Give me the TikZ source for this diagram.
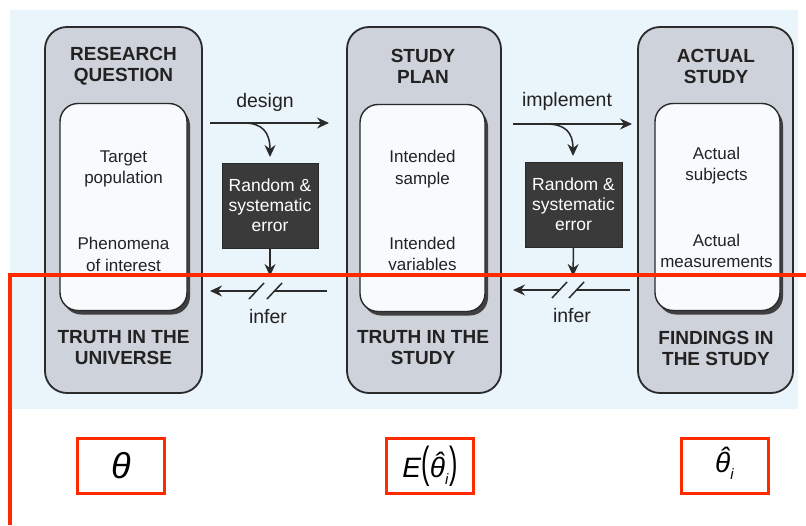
\documentclass[tikz,border=0pt]{standalone}
\usepackage{fontspec}
\usepackage{graphicx}
\setmainfont{Liberation Sans}
\usetikzlibrary{arrows.meta,shadows}
\definecolor{bgblue}{HTML}{EAF4FB}
\definecolor{outerfill}{HTML}{CED2DA}
\definecolor{innerfill}{HTML}{F7FBFD}
\definecolor{darkbox}{HTML}{3A3A3A}
\definecolor{redline}{HTML}{FF2A00}
\definecolor{edge}{HTML}{2A2A2A}
\definecolor{txt}{HTML}{222222}
\newcommand\hattheta{\leavevmode\ooalign{θ\cr\hidewidth\kern0.14em\raisebox{0.18em}{ˆ}\hidewidth\cr}}
\newcommand\subi{\raisebox{-7pt}{\fontsize{15}{17}\selectfont\itshape i}}
\newcommand\tallparen[1]{\scalebox{0.9}[1.55]{\upshape #1}}
\tikzset{
  outerbox/.style={draw=edge, line width=1.8pt, fill=outerfill, rounded corners=22pt,
    minimum height=366pt, inner sep=0pt},
  innerbox/.style={draw=edge, line width=1.4pt, fill=innerfill, rounded corners=18pt,
    minimum height=207pt, minimum width=126pt, inner sep=0pt,
    drop shadow={shadow xshift=3pt, shadow yshift=-4pt, fill=edge!90, opacity=1}},
  titletext/.style={align=center, text=txt, font=\fontsize{19}{21}\selectfont\bfseries, inner sep=0pt},
  bodytext/.style={align=center, text=txt, font=\fontsize{17}{21.5}\selectfont, inner sep=0pt},
  labeltext/.style={text=txt, font=\fontsize{19.5}{22}\selectfont, inner sep=0pt},
  errbox/.style={fill=darkbox, draw=edge, line width=0.8pt, text=white, align=center,
    minimum width=96pt, minimum height=85pt, inner sep=0pt,
    font=\fontsize{17.5}{20}\selectfont},
  flow/.style={draw=edge, line width=1.5pt, -{Stealth[length=12pt,width=11pt,inset=4pt]}},
  plain/.style={draw=edge, line width=1.5pt},
  mathbox/.style={draw=redline, line width=3pt, fill=white, minimum width=87pt, minimum height=55pt, inner sep=0pt},
}
\begin{document}
\begin{tikzpicture}[x=1pt,y=-1pt]
\useasboundingbox (0,0) rectangle (806,525);
\fill[white] (0,0) rectangle (806,525);
\fill[bgblue] (10,10) rectangle (798,409);

% outer boxes
\node[outerbox, minimum width=157pt] (o1) at (123.5,210) {};
\node[outerbox, minimum width=154pt] (o2) at (424,210) {};
\node[outerbox, minimum width=155pt] (o3) at (715.5,210) {};

% inner boxes
\node[innerbox, minimum width=127pt] (i1) at (123.5,207) {};
\node[innerbox, minimum width=125pt] (i2) at (422.5,208) {};
\node[innerbox, minimum width=125pt] (i3) at (717.5,207) {};

% titles
\node[titletext] (t1) at (123.5,66.5) {RESEARCH\\QUESTION};
\node[titletext] (b1) at (123.5,348) {TRUTH IN THE\\UNIVERSE};
\node[titletext] (t2) at (423,66.5) {STUDY\\PLAN};
\node[titletext] (b2) at (423,348) {TRUTH IN THE\\STUDY};
\node[titletext] (t3) at (716,66) {ACTUAL\\STUDY};
\node[titletext] (b3) at (716,348) {FINDINGS IN\\THE STUDY};

% inner texts
\node[bodytext] (a1) at (123.5,169) {Target\\population};
\node[bodytext] (a2) at (123.5,254.5) {Phenomena\\of interest};
\node[bodytext] (c1) at (422.5,169) {Intended\\sample};
\node[bodytext] (c2) at (422.5,254) {Intended\\variables};
\node[bodytext] (e1) at (716.5,165.5) {Actual\\subjects};
\node[bodytext] (e2) at (716.5,251) {Actual\\measurements};

% error boxes
\node[errbox] (errA) at (270,205.5) {Random \&\\systematic\\error};
\node[errbox, minimum width=97pt] (errB) at (573.5,204.5) {Random \&\\systematic\\error};

% design arrows
\coordinate (ds) at (210,123);
\coordinate (de) at (329,123);
\coordinate (dc) at (244,123);
\coordinate (dtip) at (270,157);
\draw[flow] (ds) -- (de);
\draw[flow] (dc) .. controls (262,123) and (270,132) .. (dtip);
\node[labeltext] (dl) at (265,102) {design};

\coordinate (is) at (513,124);
\coordinate (ie) at (632,124);
\coordinate (ic) at (546,124);
\coordinate (itip) at (573,156);
\draw[flow] (is) -- (ie);
\draw[flow] (ic) .. controls (565,124) and (573,132) .. (itip);
\node[labeltext] (il) at (567,101) {implement};

% down arrows from error boxes
\coordinate (dA) at (270,276);
\coordinate (dB) at (573,276);
\draw[flow] (errA.south) -- (dA);
\draw[flow] (errB.south) -- (dB);

% infer arrows (broken)
\coordinate (fA1) at (327,291);
\coordinate (fA2) at (275,291);
\coordinate (fA3) at (257,291);
\coordinate (fA4) at (210,291);
\draw[plain] (fA1) -- (fA2);
\draw[flow] (fA3) -- (fA4);
\draw[plain] (249,299) -- (264,283);
\draw[plain] (267,299) -- (282,283);
\node[labeltext] (fl) at (268,317) {infer};

\coordinate (fB1) at (630,290);
\coordinate (fB2) at (577,290);
\coordinate (fB3) at (559,290);
\coordinate (fB4) at (513,290);
\draw[plain] (fB1) -- (fB2);
\draw[flow] (fB3) -- (fB4);
\draw[plain] (552,298) -- (567,282);
\draw[plain] (569,298) -- (584,282);
\node[labeltext] (gl) at (572,316) {infer};

% red line
\coordinate (r1) at (806,275);
\coordinate (r2) at (10,275);
\coordinate (r3) at (10,525);
\draw[redline, line width=3.5pt] (r1) -- (r2) -- (r3);

% bottom math boxes
\node[mathbox] (m1) at (121,466) {\fontsize{36}{40}\selectfont\itshape θ};
\node[mathbox, font=\fontsize{28}{32}\selectfont\itshape] (m2) at (430,466)
  {E\kern0.5pt\tallparen{(}\hattheta\subi\kern1pt\tallparen{)}};
\node[mathbox, font=\fontsize{28}{32}\selectfont\itshape] (m3) at (724.5,466)
  {\hattheta\subi};
\end{tikzpicture}
\end{document}
